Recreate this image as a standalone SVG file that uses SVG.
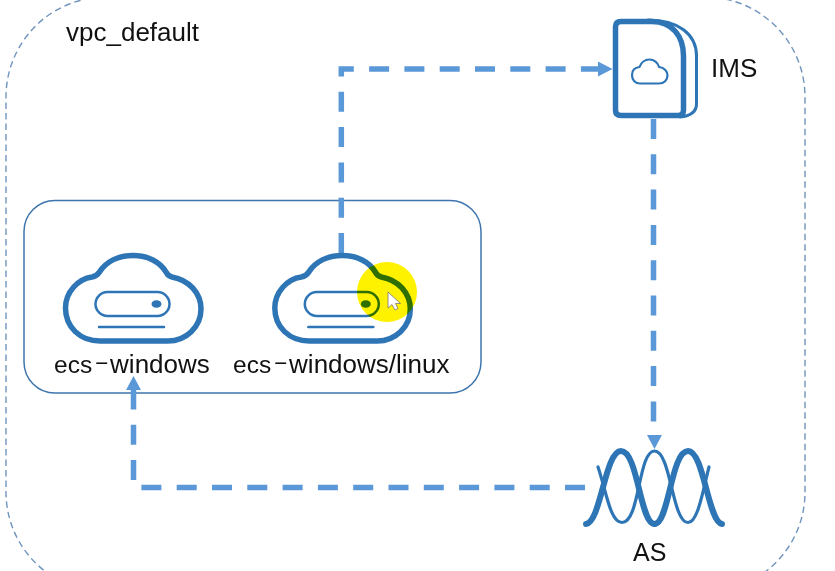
<svg xmlns="http://www.w3.org/2000/svg" width="835" height="571" viewBox="0 0 835 571">
<style>
text{font-family:"Liberation Sans",Arial,sans-serif;fill:#111;font-size:26px}
.ecs{font-size:24.500px}
.dash{font-family:Inter,"Liberation Sans",sans-serif;font-size:38px;font-weight:200}
.ic{fill:none;stroke:#2e75b6;stroke-linecap:round;stroke-linejoin:round}
.cn{fill:none;stroke:#5b98d8;stroke-width:5.500;stroke-dasharray:20 15.300}
.hd{fill:#5b98d8}
</style>
<defs>
<g id="cloud">
<path class="ic" stroke-width="5.500" d="M100 341C80 341 65.500 327 65.500 308C65.500 292 78 279 92 277Q97 276 99.500 272C106 262 118 255.500 133 255.500C148 255.500 160 262 166 272Q168 276 172 277C189 280 201 293 201 309C201 327 186 341 168 341Z"/>
<rect class="ic" stroke-width="2.500" x="95.500" y="292" width="74" height="24" rx="12"/>
<ellipse cx="156.500" cy="304" rx="5" ry="3.800" fill="#2e75b6"/>
<path class="ic" stroke-width="2.500" d="M99 327H164"/>
</g>
</defs>
<rect width="835" height="571" fill="#fff"/>
<g id="vpc">
<rect x="6" y="-3" width="799" height="595" rx="100" fill="none" stroke="#6f94bd" stroke-width="1.400" stroke-dasharray="6.500 4"/>
<text x="66" y="41">vpc_default</text>
</g>
<g id="group">
<rect x="24" y="200.500" width="457" height="192.500" rx="31" fill="none" stroke="#3e75ad" stroke-width="1.500"/>
</g>
<g id="connectors">
<path class="cn" d="M341.300 253V69H600"/>
<path class="hd" d="M612.500 69L598 61.500V76.500Z"/>
<path class="cn" d="M653.500 119V422"/>
<path class="hd" d="M654.500 449L647 435H662Z"/>
<path class="cn" d="M585 487.500H133.500V390"/>
<path class="hd" d="M133.500 376L126 390H141Z"/>
</g>
<g id="ecs-windows">
<use href="#cloud"/>
<text x="54" y="373"><tspan class="ecs">ecs</tspan><tspan class="dash" dx="1" dy="2">-</tspan><tspan dy="-2">windows</tspan></text>
</g>
<g id="ecs-windows-linux">
<use href="#cloud" x="209.300"/>
<text x="233" y="373"><tspan class="ecs">ecs</tspan><tspan class="dash" dx="1" dy="2">-</tspan><tspan dy="-2">windows/linux</tspan></text>
</g>
<g id="ims">
<path class="ic" stroke-width="3" d="M648 20C678 20 696.500 34 696.500 56V104C696.500 112 690 116 680 117"/>
<path class="ic" stroke-width="5.500" style="fill:#fff" d="M621 21.500H652C672 21.500 683.500 36 683.500 56V110Q683.500 115.500 678 115.500H621Q615.500 115.500 615.500 110V27Q615.500 21.500 621 21.500Z"/>
<path class="ic" stroke-width="2.200" d="M640 83.500C635 83.500 632 79.500 632 75C632 70.500 635 67.500 639.500 67C641 62.500 645 59.500 649.500 59.500C654 59.500 658 62.500 659 67C664 67.500 667.500 71 667.500 75.500C667.500 80 664 83.500 659 83.500Z"/>
<text x="711" y="77">IMS</text>
</g>
<g id="as">
<path class="ic" stroke-width="6" d="M586 524C601 522 605 451 621 451C638 451 640 524 654.500 524"/>
<path class="ic" stroke-width="6" d="M654.500 524C669 524 671 451 688 451C704 451 708 522 722 524"/>
<path class="ic" stroke-width="3.200" d="M598 467C606 490 610 522.500 622 522.500C640 522.500 638 451 654.500 451C671 451 672 522.500 688 522.500C698 522.500 703 490 709 467"/>
<text x="633" y="561" style="font-size:25px">AS</text>
</g>
<g id="pointer">
<circle cx="387" cy="292" r="30" fill="#fff200" style="mix-blend-mode:multiply"/>
<path d="M388 292V308L392 304.500L395 310L398 308.500L395.500 303.500H400.500Z" fill="#fff" stroke="#777" stroke-width="0.800"/>
</g>
</svg>
